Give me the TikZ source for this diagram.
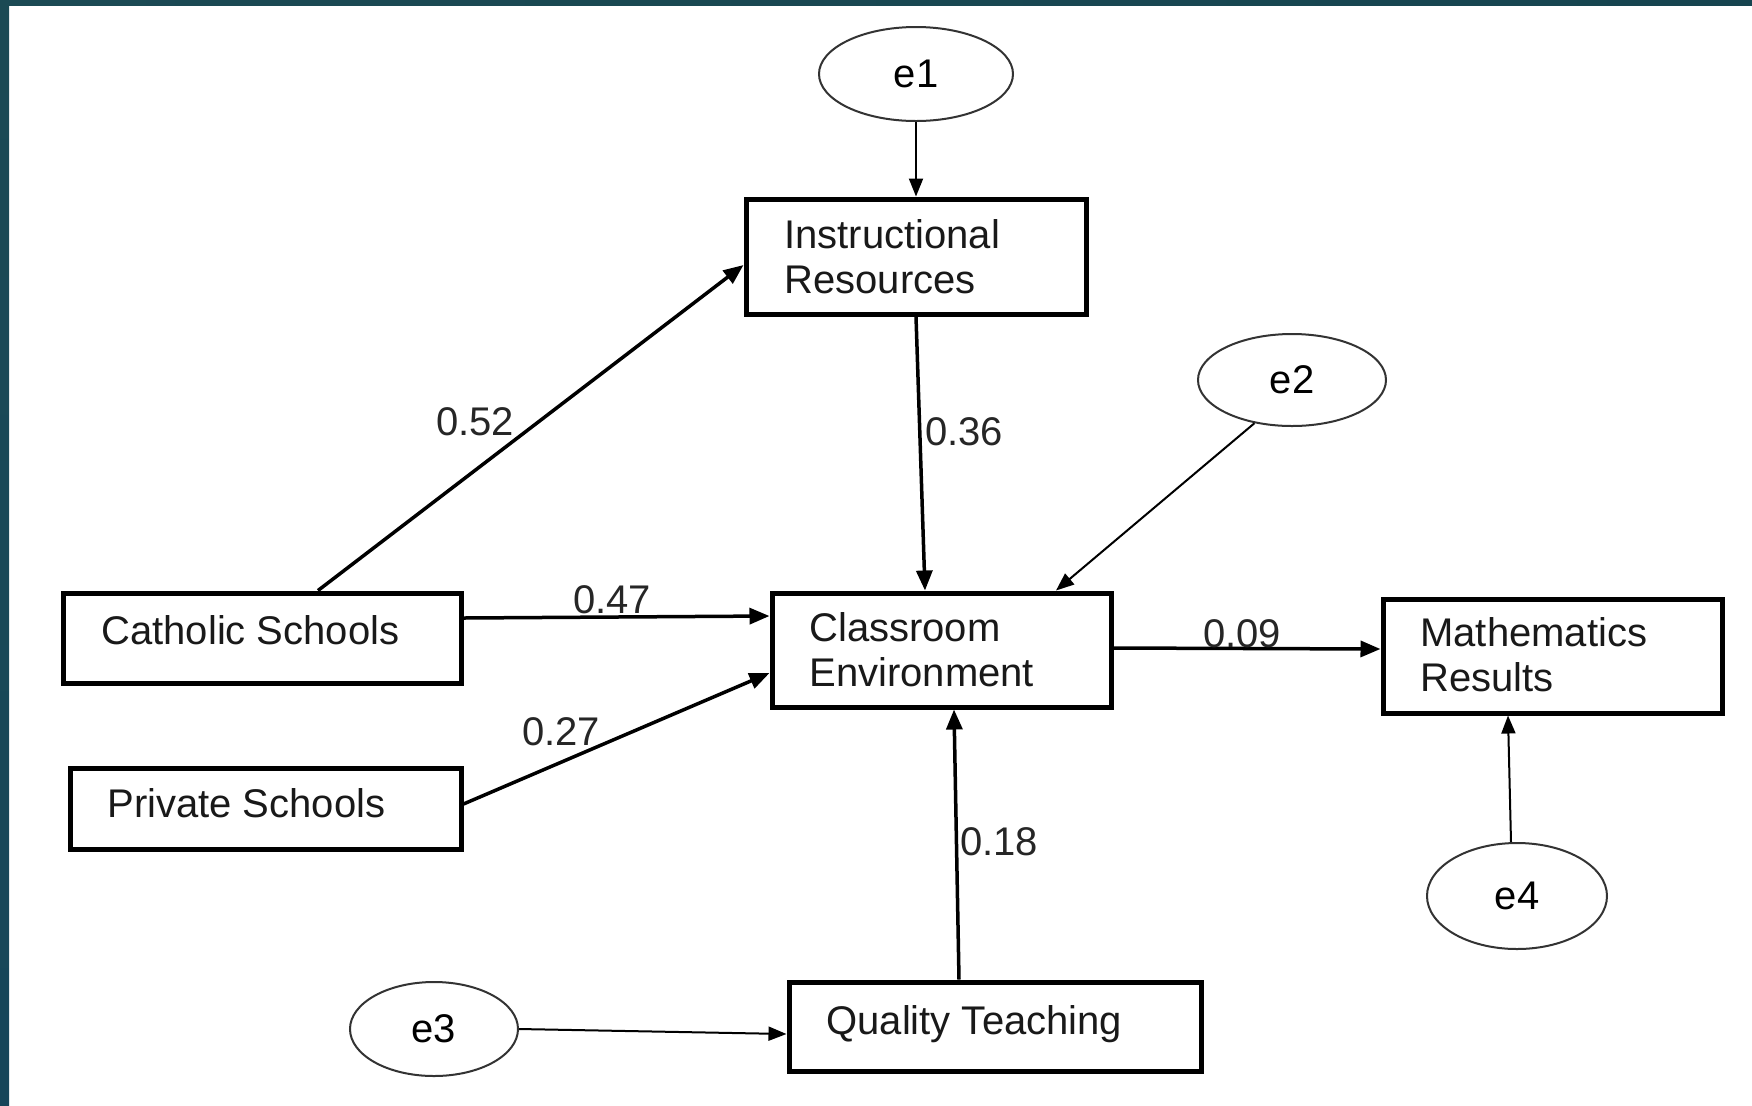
\documentclass[tikz,border=0pt]{standalone}
\usepackage{fontspec}
\setmainfont{Liberation Sans}
\usetikzlibrary{arrows.meta,shapes.geometric}
\definecolor{tealA}{HTML}{1B4A54}
\definecolor{tealB}{HTML}{285D62}
\definecolor{tealC}{HTML}{16444F}
\definecolor{tealD}{HTML}{17465A}
\begin{document}
\begin{tikzpicture}[x=0.5pt,y=-0.5pt,
  box/.style={draw=black, line width=2.5pt, rectangle, inner sep=0pt},
  lat/.style={draw=black!80, line width=1pt, ellipse, inner sep=0pt, font=\fontsize{20}{24}\selectfont},
  thickarr/.style={-{Triangle[length=10pt,width=8pt]}, line width=1.75pt},
  thinarr/.style={-{Triangle[length=9pt,width=7pt]}, line width=1pt},
  lbl/.style={font=\fontsize{20}{24}\selectfont, inner sep=0pt, anchor=base west, text=black!90},
  coef/.style={font=\fontsize{20}{24}\selectfont, inner sep=0pt, anchor=base, text=black!85}]
\useasboundingbox (0,0) rectangle (1752,1105);
\fill[white] (0,0) rectangle (1752,1105);
\shade[left color=tealA, middle color=tealB, right color=tealC] (0,0) rectangle (1752,5);
\shade[top color=tealA, bottom color=tealD] (0,0) rectangle (9,1105);

% boxes
\node[box, minimum width=170pt, minimum height=57.5pt] (ir) at (916,256.5) {};
\node[box, minimum width=199pt, minimum height=45pt] (cs) at (262,638) {};
\node[box, minimum width=169.5pt, minimum height=57pt] (ce) at (941.5,650) {};
\node[box, minimum width=169.5pt, minimum height=57pt] (mr) at (1552.5,656) {};
\node[box, minimum width=195.5pt, minimum height=40.5pt] (ps) at (265.5,808.5) {};
\node[box, minimum width=206pt, minimum height=44.5pt] (qt) at (995,1026.5) {};

% box texts
\node[lbl] (irt1) at (784,248) {Instructional};
\node[lbl] (irt2) at (784,293) {Resources};
\node[lbl] (cst) at (101,644) {Catholic Schools};
\node[lbl] (cet1) at (809,641) {Classroom};
\node[lbl] (cet2) at (809,686) {Environment};
\node[lbl] (mrt1) at (1420,646) {Mathematics};
\node[lbl] (mrt2) at (1420,691) {Results};
\node[lbl] (pst) at (107,817) {Private Schools};
\node[lbl] (qtt) at (826,1034) {Quality Teaching};

% error terms
\node[lat, minimum width=97pt, minimum height=47pt] (e1) at (916,74) {e1};
\node[lat, minimum width=94pt, minimum height=46pt] (e2) at (1292,380) {e2};
\node[lat, minimum width=84pt, minimum height=47pt] (e3) at (434,1029) {e3};
\node[lat, minimum width=90pt, minimum height=53pt] (e4) at (1517,896) {e4};

% paths
\draw[thinarr] (e1.south) -- (ir.north);
\draw[thickarr] ([xshift=28pt]cs.north) -- ([yshift=-4.25pt]ir.west);
\draw[thickarr] (ir.south) -- ([xshift=-8.25pt]ce.north);
\draw[thinarr] (e2.229) -- ([xshift=57.25pt]ce.north);
\draw[thickarr] ([yshift=10pt]cs.east) -- ([yshift=17pt]ce.west);
\draw[thickarr] ([yshift=2.25pt]ps.east) -- ([yshift=-11.5pt]ce.west);
\draw[thickarr] ([yshift=1pt]ce.east) -- ([yshift=3.5pt]mr.west);
\draw[thickarr] ([xshift=-18pt]qt.north) -- ([xshift=6.25pt]ce.south);
\draw[thinarr] ([xshift=-3pt]e4.north) -- ([xshift=-22.25pt]mr.south);
\draw[thinarr] (e3.east) -- ([yshift=-3.75pt]qt.west);

% coefficients
\node[coef] (c52) at (475,435) {0.52};
\node[coef] (c36) at (964,445) {0.36};
\node[coef] (c47) at (612,613) {0.47};
\node[coef] (c27) at (561,745) {0.27};
\node[coef] (c09) at (1242,647) {0.09};
\node[coef] (c18) at (999,855) {0.18};
\end{tikzpicture}
\end{document}
